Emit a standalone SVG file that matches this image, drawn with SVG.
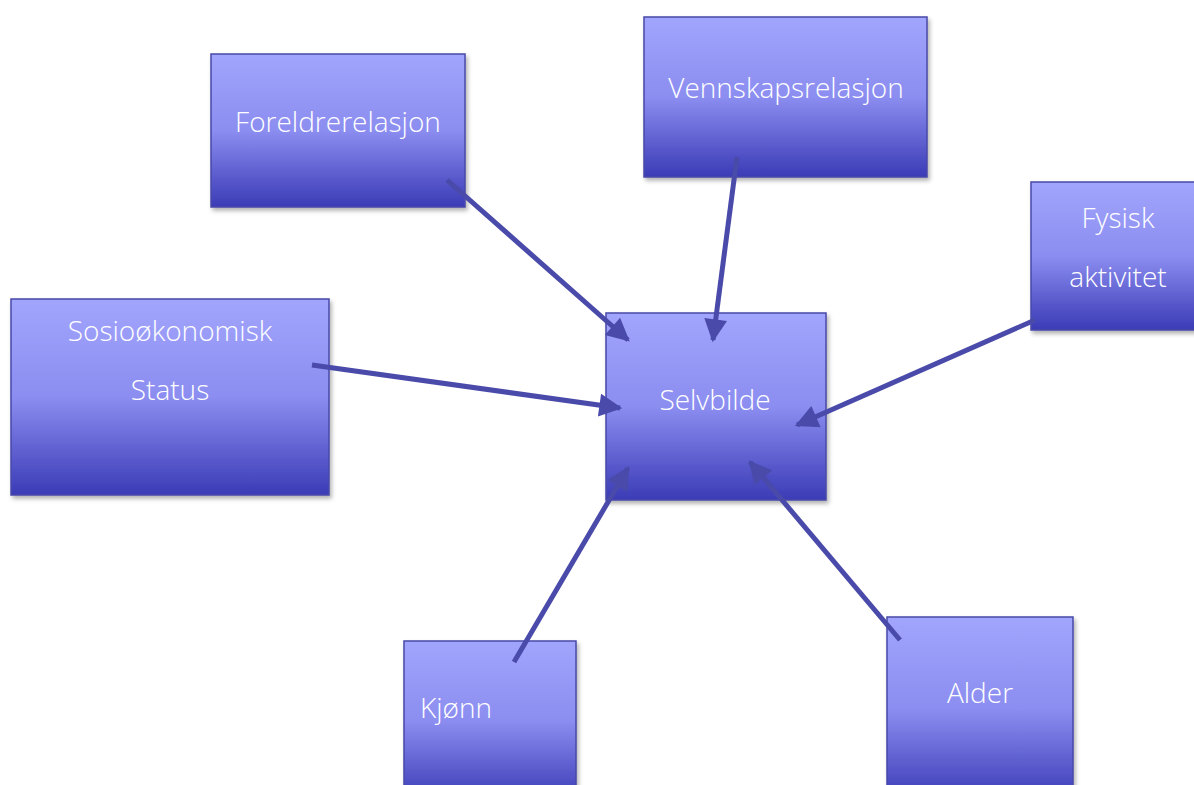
<svg xmlns="http://www.w3.org/2000/svg" width="1194" height="785" viewBox="0 0 1194 785">
<defs>
<linearGradient id="g" x1="0" y1="0" x2="0" y2="1">
<stop offset="0" stop-color="#a2a5fc"/>
<stop offset="0.5" stop-color="#8b8df0"/>
<stop offset="1" stop-color="#3b3bb6"/>
</linearGradient>
<filter id="sh" x="-10%" y="-10%" width="125%" height="125%">
<feDropShadow dx="2" dy="3" stdDeviation="2" flood-color="#000" flood-opacity="0.3"/>
</filter>
<marker id="ah" viewBox="0 0 10 10" refX="9" refY="5" markerWidth="5" markerHeight="4.6" orient="auto" markerUnits="strokeWidth">
<path d="M0,0 L10,5 L0,10 Z" fill="#4a4aaa"/>
</marker>
<style>
.box{fill:url(#g);stroke:#4848a8;stroke-width:1.5;filter:url(#sh)}
.t{font-family:"Open Sans","Liberation Sans",sans-serif;font-size:28px;fill:#ffffff;text-anchor:middle;font-weight:300}
.c{stroke:#4a4aaa;stroke-width:5;fill:none;marker-end:url(#ah)}
</style>
</defs>
<rect width="1194" height="785" fill="#ffffff"/>
<g id="foreldrerelasjon"><rect class="box" x="211" y="54" width="254" height="153"/><text class="t" x="338" y="132">Foreldrerelasjon</text></g>
<g id="vennskapsrelasjon"><rect class="box" x="644" y="17" width="283" height="160"/><text class="t" x="786" y="98">Vennskapsrelasjon</text></g>
<g id="fysisk"><rect class="box" x="1031" y="182" width="170" height="148"/><text class="t" x="1118" y="228">Fysisk</text><text class="t" x="1118" y="287">aktivitet</text></g>
<g id="sosio"><rect class="box" x="11" y="299" width="318" height="196"/><text class="t" x="170" y="341">Sosioøkonomisk</text><text class="t" x="170" y="400">Status</text></g>
<g id="selvbilde"><rect class="box" x="606" y="313" width="220" height="187"/><text class="t" x="715" y="410">Selvbilde</text></g>
<g id="kjonn"><rect class="box" x="404" y="641" width="172" height="160"/><text class="t" x="456" y="718">Kjønn</text></g>
<g id="alder"><rect class="box" x="887" y="617" width="186" height="184"/><text class="t" x="980" y="703">Alder</text></g>
<g id="connectors">
<line class="c" x1="447" y1="180" x2="628" y2="340"/>
<line class="c" x1="737" y1="157" x2="713" y2="340"/>
<line class="c" x1="1035" y1="320" x2="797" y2="425"/>
<line class="c" x1="312" y1="365" x2="620" y2="408"/>
<line class="c" x1="514" y1="662" x2="628" y2="468"/>
<line class="c" x1="900" y1="640" x2="750" y2="462"/>
</g>
</svg>
